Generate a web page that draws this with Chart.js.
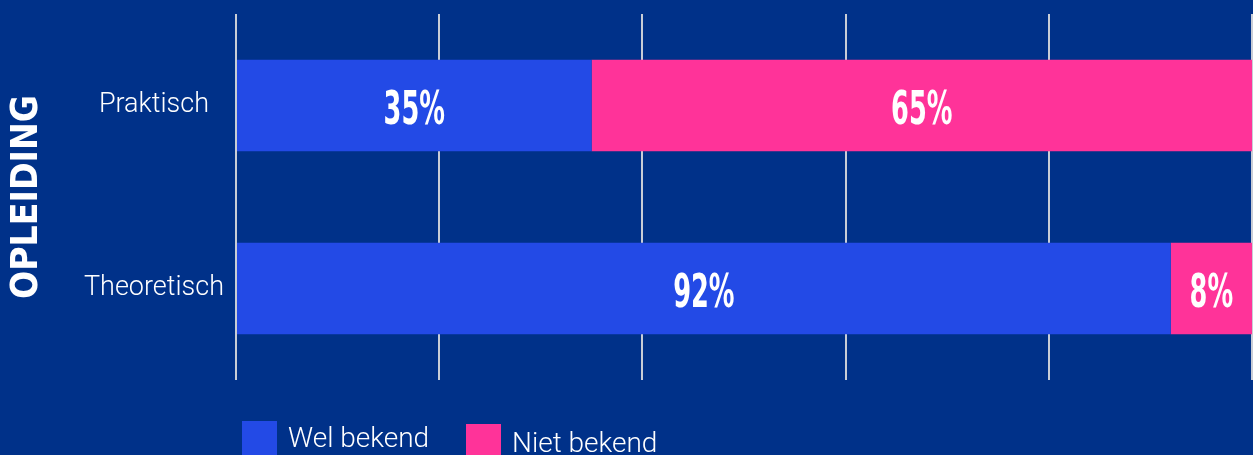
<!DOCTYPE html>
<html>
<head>
<meta charset="utf-8">
<script src="https://cdn.jsdelivr.net/npm/chart.js@4.4.1/dist/chart.umd.min.js"></script>
<style>
html,body{margin:0;padding:0;background:#003189;overflow:hidden;}
#wrap{width:1253px;height:455px;position:relative;}
</style>
</head>
<body>
<div id="wrap"><canvas id="c"></canvas></div>
<script>
const categories = ["Praktisch", "Theoretisch"];
const seriesNames = ["Wel bekend", "Niet bekend"];
const welBekend = [35, 92];
const nietBekend = [65, 8];
const axisTitle = "OPLEIDING";
const xTicks = [0, 20, 40, 60, 80, 100];

const colors = ["#234AE6", "#FF3399"];

const valueLabels = {
  id: 'valueLabels',
  afterDatasetsDraw(chart) {
    const ctx = chart.ctx;
    ctx.save();
    ctx.fillStyle = '#ffffff';
    ctx.textAlign = 'center';
    ctx.textBaseline = 'middle';
    ctx.font = 'bold 46px "DejaVu Sans Condensed", "Liberation Sans Narrow", sans-serif';
    chart.data.datasets.forEach((ds, di) => {
      const meta = chart.getDatasetMeta(di);
      meta.data.forEach((el, i) => {
        const p = el.getCenterPoint();
        ctx.save();
        ctx.translate(p.x, p.y + 7);
        ctx.scale(0.62, 1);
        ctx.fillText(ds.data[i] + '%', 0, 0);
        ctx.restore();
      });
    });
    ctx.restore();
  }
};

const customLegend = {
  id: 'customLegend',
  afterDraw(chart) {
    const ctx = chart.ctx;
    ctx.save();
    ctx.font = '300 28px Roboto, sans-serif';
    ctx.textBaseline = 'alphabetic';
    ctx.textAlign = 'left';
    const pos = [{x: 242, y: 421, ty: 447}, {x: 466, y: 424, ty: 452}];
    chart.data.datasets.forEach((ds, i) => {
      const p = pos[i];
      ctx.fillStyle = ds.backgroundColor;
      ctx.fillRect(p.x, p.y, 35, 40);
      ctx.fillStyle = '#ffffff';
      ctx.fillText(ds.label, p.x + 46, p.ty);
    });
    ctx.restore();
  }
};

new Chart(document.getElementById('c'), {
  type: 'bar',
  data: {
    labels: categories,
    datasets: [
      {label: seriesNames[0], data: welBekend, backgroundColor: colors[0], borderWidth: 0},
      {label: seriesNames[1], data: nietBekend, backgroundColor: colors[1], borderWidth: 0}
    ]
  },
  options: {
    indexAxis: 'y',
    responsive: true,
    maintainAspectRatio: false,
    animation: false,
    layout: {padding: {top: 14, bottom: 75, right: 1, left: 0}},
    datasets: {bar: {categoryPercentage: 0.5, barPercentage: 1.0}},
    scales: {
      x: {
        stacked: true,
        min: 0, max: 100,
        afterBuildTicks(scale) { scale.ticks = xTicks.map(v => ({value: v})); },
        afterFit(scale) { scale.height = 0; scale.paddingLeft = 0; scale.paddingRight = 0; },
        ticks: {display: false},
        grid: {display: true, color: '#C9CDD6', lineWidth: 2, drawTicks: false},
        border: {display: false}
      },
      y: {
        stacked: true,
        afterFit(scale) { scale.width = 236; scale.paddingTop = 0; scale.paddingBottom = 0; },
        ticks: {
          color: '#ffffff',
          font: {family: 'Roboto', size: 27, weight: '300'},
          crossAlign: 'center',
          padding: 12
        },
        grid: {display: false, drawTicks: false},
        border: {display: false},
        title: {
          display: true,
          text: axisTitle,
          color: '#ffffff',
          font: {family: '"DejaVu Sans Condensed", sans-serif', size: 37, weight: 'bold', lineHeight: 1},
          padding: {top: 9, bottom: 0}
        }
      }
    },
    plugins: {
      legend: {display: false},
      tooltip: {enabled: false}
    }
  },
  plugins: [valueLabels, customLegend]
});
</script>
</body>
</html>
